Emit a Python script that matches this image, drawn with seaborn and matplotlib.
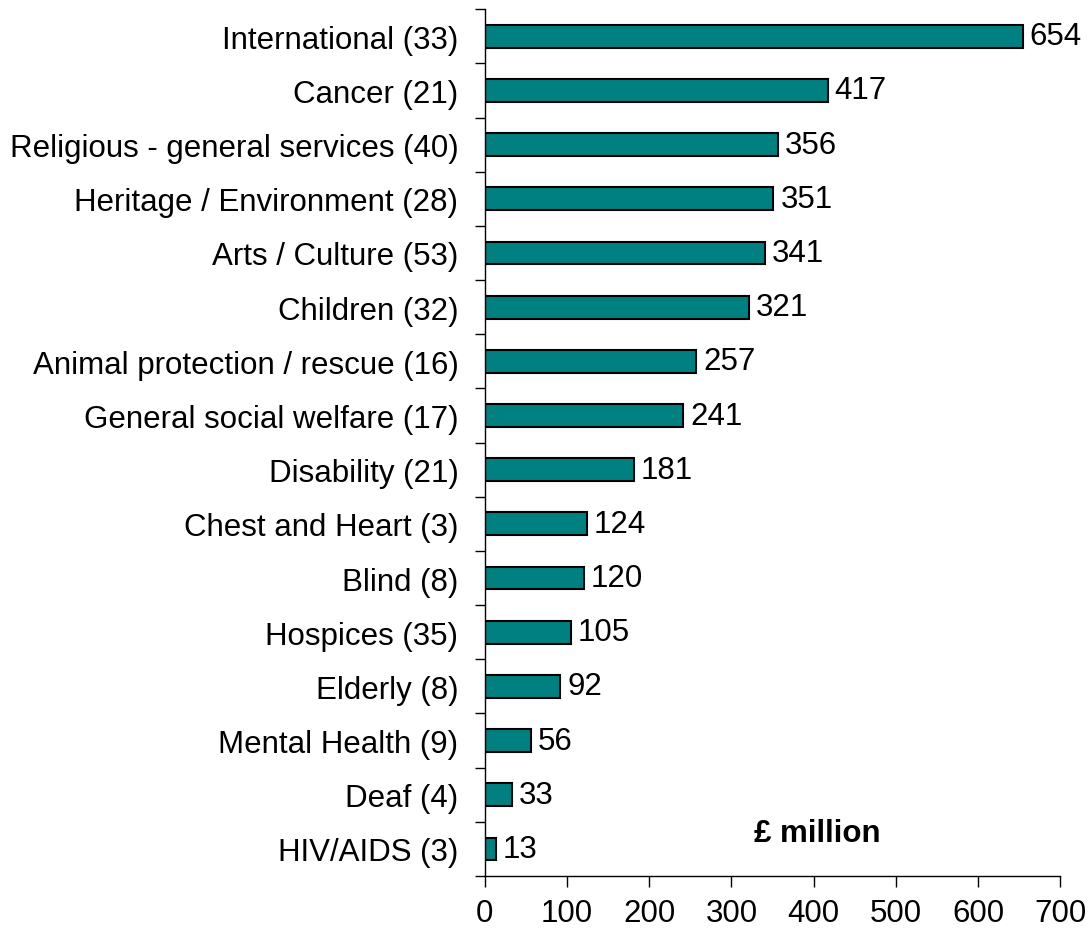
import matplotlib
matplotlib.use("Agg")
import matplotlib.pyplot as plt
import seaborn as sns
import pandas as pd
import numpy as np

categories = [
    "International (33)", "Cancer (21)", "Religious - general services (40)",
    "Heritage / Environment (28)", "Arts / Culture (53)", "Children (32)",
    "Animal protection / rescue (16)", "General social welfare (17)",
    "Disability (21)", "Chest and Heart (3)", "Blind (8)", "Hospices (35)",
    "Elderly (8)", "Mental Health (9)", "Deaf (4)", "HIV/AIDS (3)",
]
values = [654, 417, 356, 351, 341, 321, 257, 241, 181, 124, 120, 105, 92, 56, 33, 13]
x_ticks = [0, 100, 200, 300, 400, 500, 600, 700]

df = pd.DataFrame({"category": categories, "value": values})

sns.set_style("white")
plt.rcParams["font.family"] = ["Liberation Sans", "DejaVu Sans"]
plt.rcParams["text.color"] = "black"
plt.rcParams["xtick.color"] = "black"
plt.rcParams["ytick.color"] = "black"

fs = 22.5

fig = plt.figure(figsize=(10.92, 9.29), dpi=100)
ax = fig.add_axes([0.444, 0.056, 0.527, 0.933])

sns.barplot(data=df, x="value", y="category", orient="h", color="#008080",
            saturation=1, width=0.42, edgecolor="black", linewidth=1.5, ax=ax)

ax.bar_label(ax.containers[0], fmt="%d", padding=5, fontsize=fs, color="black")

ax.set_xlim(0, 700)
ax.set_ylim(len(categories) - 0.5, -0.5)
ax.set_xticks(x_ticks)
ax.set_xlabel("")
ax.set_ylabel("")

ax.set_yticks(np.arange(-0.5, len(categories), 1.0), minor=True)
ax.tick_params(axis="y", which="major", left=False, length=0, labelsize=fs, pad=19)
ax.tick_params(axis="y", which="minor", left=True, length=7, width=1,
               direction="out", color="black")
ax.tick_params(axis="x", which="major", bottom=True, length=8, width=1,
               direction="out", color="black", labelsize=fs, pad=8)

for side in ["top", "right"]:
    ax.spines[side].set_visible(False)
for side in ["left", "bottom"]:
    ax.spines[side].set_color("black")
    ax.spines[side].set_linewidth(1)

ax.text(0.468, 0.05, "£ million", transform=ax.transAxes, fontsize=fs,
        fontweight="bold", ha="left", va="center")

fig.savefig("out.png", dpi=100)
